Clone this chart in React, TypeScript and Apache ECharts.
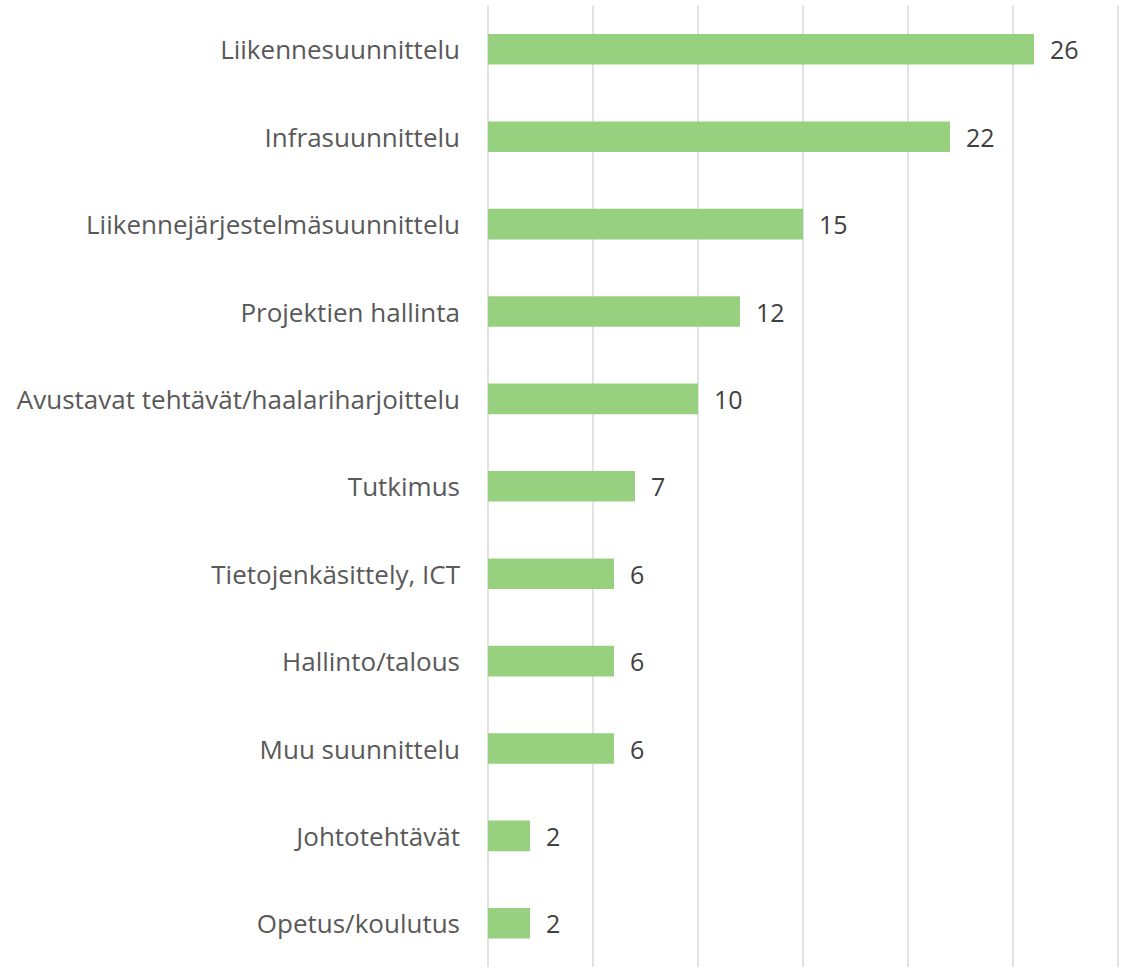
import React, { useEffect, useRef } from "react";
import * as echarts from "echarts";

const categories = [
  "Liikennesuunnittelu",
  "Infrasuunnittelu",
  "Liikennejärjestelmäsuunnittelu",
  "Projektien hallinta",
  "Avustavat tehtävät/haalariharjoittelu",
  "Tutkimus",
  "Tietojenkäsittely, ICT",
  "Hallinto/talous",
  "Muu suunnittelu",
  "Johtotehtävät",
  "Opetus/koulutus",
];
const values = [26, 22, 15, 12, 10, 7, 6, 6, 6, 2, 2];
const xMin = 0;
const xMax = 30;
const xStep = 5;

export default function App() {
  const ref = useRef<HTMLDivElement>(null);
  useEffect(() => {
    if (!ref.current) return;
    const chart = echarts.init(ref.current, null, { renderer: "svg" });
    chart.setOption({
      animation: false,
      backgroundColor: "#ffffff",
      grid: { left: 488, right: 6, top: 5.6, bottom: -4.3, containLabel: false },
      xAxis: {
        type: "value",
        min: xMin,
        max: xMax,
        interval: xStep,
        axisLabel: { show: false },
        axisLine: { show: false },
        axisTick: { show: false },
        splitLine: { show: true, lineStyle: { color: "#d9d9d9", width: 1.5 } },
      },
      yAxis: {
        type: "category",
        data: categories,
        inverse: true,
        axisLine: { show: false },
        axisTick: { show: false },
        axisLabel: {
          margin: 28,
          fontFamily: "Open Sans",
          fontSize: 26,
          color: "#595959",
        },
      },
      series: [
        {
          type: "bar",
          data: values,
          barWidth: "35%",
          itemStyle: { color: "#97d17f" },
          label: {
            show: true,
            position: "right",
            distance: 16,
            fontFamily: "Open Sans",
            fontSize: 25,
            color: "#404040",
          },
        },
      ],
    });
    return () => chart.dispose();
  }, []);
  return (
    <div
      ref={ref}
      style={{ position: "absolute", left: 0, top: 0, width: 1124, height: 967 }}
    />
  );
}
